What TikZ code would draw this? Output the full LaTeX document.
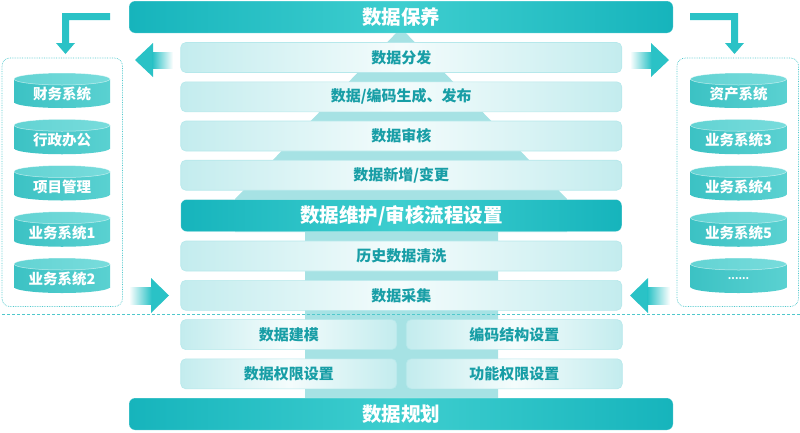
\documentclass[tikz,border=0pt]{standalone}
\usepackage{fontspec}
\setmainfont{Noto Sans CJK SC}
\definecolor{tealD}{RGB}{22,180,188}
\definecolor{tealL}{RGB}{62,206,207}
\definecolor{pyr}{RGB}{166,226,228}
\definecolor{barL}{RGB}{195,236,238}
\definecolor{barM}{RGB}{244,252,252}
\definecolor{barB}{RGB}{182,232,235}
\definecolor{txt}{RGB}{24,158,166}
\definecolor{cylL}{RGB}{60,194,196}
\definecolor{cylR}{RGB}{90,209,209}
\definecolor{cylTL}{RGB}{98,211,211}
\definecolor{cylTR}{RGB}{120,220,220}
\definecolor{arrT}{RGB}{42,194,198}
\definecolor{dotc}{RGB}{80,200,204}
\newcommand\mycyl[4]{%
  \shade[left color=cylL, right color=cylR] (#1-48,#2+6) rectangle (#1+48,#2+29);
  \shade[left color=cylL, right color=cylR] (#1,#2+29) ellipse [x radius=48, y radius=6];
  \shade[left color=cylTL, right color=cylTR, draw=white, draw opacity=0.6, line width=0.5pt] (#1,#2+6) ellipse [x radius=48, y radius=6];
  \node[cyltxt] (#3) at (#1,#2+21) {#4};
}
\begin{document}
\begin{tikzpicture}[x=1pt,y=-1pt,
  lbar/.style={rounded corners=5pt, draw=barB, line width=0.6pt, left color=barL, right color=barL, middle color=barM,
    minimum height=30pt, inner sep=0pt, outer sep=0pt, text=txt, font=\bfseries\fontsize{15}{15}\selectfont},
  wide/.style={minimum width=441pt},
  half/.style={minimum width=216pt},
  dbar/.style={rounded corners=6pt, left color=tealD, right color=tealD, middle color=tealL, draw=white, draw opacity=0.4, line width=0.5pt,
    text=white, font=\bfseries\fontsize{19.5}{20}\selectfont, minimum height=32pt, inner sep=0pt, outer sep=0pt},
  cyltxt/.style={text=white, font=\bfseries\fontsize{14.5}{15}\selectfont, inner sep=0pt},
  dotbox/.style={draw=dotc, densely dotted, line width=0.7pt, rounded corners=8pt},
  arrfill/.style={fill=arrT},
]
\useasboundingbox (0,0) rectangle (800,432);

% pyramid background
\fill[pyr] (401,28) -- (567,199) -- (567,232) -- (498,232) -- (498,399) -- (305,399) -- (305,232) -- (235,232) -- (235,199) -- cycle;

% top and bottom bars
\node[dbar, minimum width=544pt] (bao) at (401,17) {数据保养};
\node[dbar, minimum width=544pt] (gui) at (401,414) {数据规划};

% rows
\node[lbar, wide] (r1) at (401.25,57.5) {数据分发};
\node[lbar, wide] (r2) at (401.25,96.8) {数据/编码生成、发布};
\node[lbar, wide] (r3) at (401.25,136) {数据审核};
\node[lbar, wide] (r4) at (401.25,175.2) {数据新增/变更};
\node[dbar, minimum width=441pt] (wh) at (401.25,215.5) {数据维护/审核流程设置};
\node[lbar, wide] (r6) at (401.25,256) {历史数据清洗};
\node[lbar, wide] (r7) at (401.25,295.3) {数据采集};
\node[lbar, half] (c1) at (288.75,334.6) {数据建模};
\node[lbar, half] (c2) at (514.25,334.6) {编码结构设置};
\node[lbar, half] (c3) at (288.75,373.8) {数据权限设置};
\node[lbar, half] (c4) at (514.25,373.8) {功能权限设置};

% dashed separator
\draw[dotc, dashed, dash pattern=on 3pt off 2pt, line width=0.7pt] (2,314.5) -- (800,314.5);

% side boxes
\draw[dotbox] (2,58) rectangle (122.5,306.5);
\draw[dotbox] (677,58) rectangle (798.5,306.5);

% cylinders left
\mycyl{62}{73}{L1}{财务系统}
\mycyl{62}{119.25}{L2}{行政办公}
\mycyl{62}{165.5}{L3}{项目管理}
\mycyl{62}{211.75}{L4}{业务系统1}
\mycyl{62}{258}{L5}{业务系统2}
% cylinders right
\mycyl{738.5}{73}{R1}{资产系统}
\mycyl{738.5}{119.25}{R2}{业务系统3}
\mycyl{738.5}{165.5}{R3}{业务系统4}
\mycyl{738.5}{211.75}{R4}{业务系统5}
\mycyl{738.5}{258}{R5}{{\fontsize{10}{10}\selectfont ......}}

% elbow arrows
\fill[arrfill] (110,13) -- (62,13) -- (62,43) -- (56,43) -- (65.5,54) -- (75,43) -- (69,43) -- (69,20) -- (110,20) -- cycle;
\fill[arrfill] (690,13) -- (738,13) -- (738,43) -- (744,43) -- (734.5,54) -- (725,43) -- (731,43) -- (731,20) -- (690,20) -- cycle;

% gradient arrows top
\fill[arrfill] (135,60) -- (153,43) -- (153,77) -- cycle;
\shade[left color=arrT, right color=white] (152.5,52) rectangle (173,68);
\fill[arrfill] (669,60) -- (651,43) -- (651,77) -- cycle;
\shade[left color=white, right color=arrT] (630,52) rectangle (651.5,68);
% gradient arrows bottom
\fill[arrfill] (169,295.5) -- (151,278) -- (151,313) -- cycle;
\shade[left color=white, right color=arrT] (129,287) rectangle (151.5,304);
\fill[arrfill] (630,295.5) -- (648,278) -- (648,313) -- cycle;
\shade[left color=arrT, right color=white] (647.5,287) rectangle (670,304);
\end{tikzpicture}
\end{document}
